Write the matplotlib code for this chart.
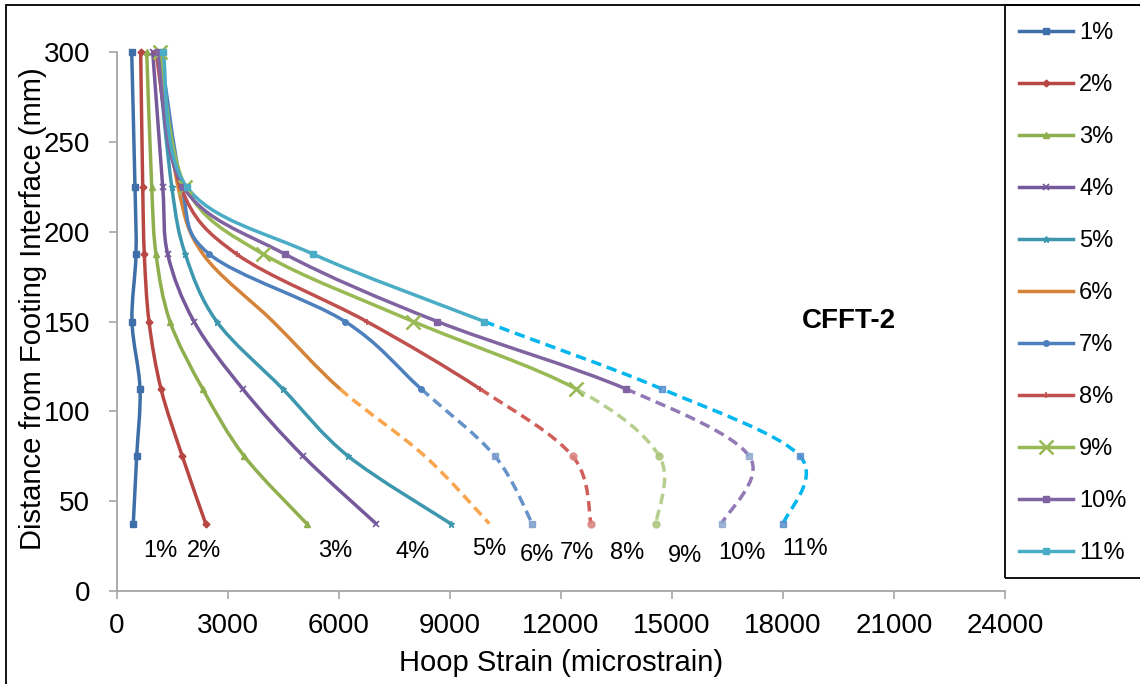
import numpy as np
import matplotlib
matplotlib.use('Agg')
import matplotlib.pyplot as plt
from matplotlib.path import Path
from matplotlib.patches import PathPatch, Rectangle
from matplotlib.lines import Line2D

plt.rcParams['font.family'] = ['Liberation Sans', 'DejaVu Sans']

# ---------------- data ----------------
depth = [300, 225, 187.5, 150, 112.5, 75, 37.5]
labels = ['1%', '2%', '3%', '4%', '5%', '6%', '7%', '8%', '9%', '10%', '11%']
s1 = [397, 486, 514, 405, 622, 532, 440]
s2 = [640, 695, 738, 865, 1189, 1765, 2397]
s3 = [803, 938, 1054, 1432, 2316, 3441, 5127]
s4 = [965, 1235, 1370, 2081, 3397, 5035, 7000]
s5 = [1089, 1480, 1846, 2695, 4478, 6251, 9018]
s6 = [1120, 1650, 2324, 4216, 6027, 8324, 10062]
s7 = [1180, 1750, 2495, 6162, 8216, 10216, 11224]
s8 = [1050, 1720, 3235, 6749, 9811, 12316, 12811]
s9 = [1160, 1850, 3954, 8008, 12405, 14657, 14568]
s10 = [1100, 1790, 4541, 8657, 13749, 17089, 16343]
s11 = [1250, 1880, 5305, 9927, 14722, 18459, 18008]
series = [s1, s2, s3, s4, s5, s6, s7, s8, s9, s10, s11]
# index of first point of dashed part (None = all solid)
dash_start = [None, None, None, None, None, 4, 4, 4, 4, 4, 3]

# end-of-curve annotation labels
ann_text = ['1%', '2%', '3%', '4%', '5%', '6%', '7%', '8%', '9%', '10%', '11%']
ann_x = [1162, 2350, 5890, 8000, 10054, 11350, 12430, 13780, 15350, 16890, 18600]
ann_y = [22, 22, 22, 21.7, 23.4, 20, 21.2, 21.2, 19.5, 21.2, 23.4]

# ---------------- styles ----------------
colors = ['#3F6FA9', '#B84744', '#8FAF4E', '#75599A', '#3D97AE', '#D58338',
          '#4E80BE', '#C0504D', '#98B954', '#8064A2', '#4BACC6']
dash_colors = [None, None, None, None, None, '#F9A54E', '#6592C8', '#D05F5A',
               '#B7CF8E', '#9379B5', '#00B6EF']
markers = ['s', 'D', '^', 'x', '*', None, 'o', '+', 'x', 's', 's']
dash_markers = [None, None, None, None, None, None, 's', 'o', 'o', 's', 's']
dash_mcolors = [None, None, None, None, None, None, '#7D9CCB', '#DA8580',
                '#A9C47A', '#8FA9D0', '#5A8FCC']
msizes = [5, 3.5, 4.5, 4, 5, 0, 4, 5, 10, 5, 5]
mews = [1, 1, 1, 1.2, 1, 1, 1, 1.2, 1.8, 1, 1]

fig = plt.figure(figsize=(11.4, 6.84), dpi=100)
ax = fig.add_axes([117/1140, 1-591/684, 888/1140, 539/684])


def bez_path(xs, ys, i0, i1):
    pts = np.column_stack([xs, ys]).astype(float)
    n = len(pts)
    verts = [pts[i0]]
    codes = [Path.MOVETO]
    for i in range(i0, i1):
        p0 = pts[i - 1] if i > 0 else pts[i]
        p1 = pts[i]
        p2 = pts[i + 1]
        p3 = pts[i + 2] if i + 2 < n else pts[i + 1]
        c1 = p1 + (p2 - p0) / 6.0
        c2 = p2 - (p3 - p1) / 6.0
        verts += [c1, c2, p2]
        codes += [Path.CURVE4] * 3
    return Path(verts, codes)


lw = 2.5
for k, xs in enumerate(series):
    n = len(xs)
    ds = dash_start[k]
    solid_end = n - 1 if ds is None else ds
    ax.add_patch(PathPatch(bez_path(xs, depth, 0, solid_end), fill=False,
                           edgecolor=colors[k], lw=lw, capstyle='round',
                           joinstyle='round', clip_on=False, zorder=3))
    if ds is not None:
        pp = PathPatch(bez_path(xs, depth, ds, n - 1), fill=False,
                       edgecolor=dash_colors[k], lw=lw, capstyle='butt',
                       clip_on=False, zorder=3)
        pp.set_linestyle((0, (3.0, 1.7)))
        ax.add_patch(pp)
    if markers[k] is not None:
        ms_end = n if ds is None else ds + 1
        ax.plot(xs[:ms_end], depth[:ms_end], linestyle='none', marker=markers[k],
                ms=msizes[k], mew=mews[k], color=colors[k], clip_on=False, zorder=4)
    if ds is not None and dash_markers[k] is not None:
        ax.plot(xs[ds + 1:], depth[ds + 1:], linestyle='none', marker=dash_markers[k],
                ms=5, mew=1, color=dash_mcolors[k], alpha=0.85,
                clip_on=False, zorder=4)

for t, x, y in zip(ann_text, ann_x, ann_y):
    ax.text(x, y, t, fontsize=17, ha='center', va='center', color='black')

ax.text(19784, 150.3, 'CFFT-2', fontsize=20, fontweight='bold', ha='center', va='center')

ax.set_xlim(0, 24000)
ax.set_ylim(0, 300)
ax.set_xticks(np.arange(0, 24001, 3000))
ax.set_yticks(np.arange(0, 301, 50))
for s in ['top', 'right']:
    ax.spines[s].set_visible(False)
for s in ['left', 'bottom']:
    ax.spines[s].set_color('#A6A6A6')
    ax.spines[s].set_linewidth(1.3)
ax.tick_params(axis='both', direction='out', length=5.5, width=1.2, color='#A6A6A6',
               labelsize=20, labelcolor='black')
ax.tick_params(axis='y', pad=14)
ax.tick_params(axis='x', pad=10)

ax.set_xlabel('Hoop Strain (microstrain)', fontsize=21)
ax.xaxis.label.set_va('center')
ax.xaxis.set_label_coords(0.5, -0.1336)
ax.set_ylabel('Distance from Footing Interface (mm)', fontsize=21)
ax.yaxis.label.set_va('center')
ax.yaxis.set_label_coords(-0.0946, 0.523)

# legend
handles = []
for k in range(len(series)):
    handles.append(Line2D([], [], color=colors[k], lw=lw,
                          marker=markers[k] if markers[k] else None,
                          ms=min(msizes[k], 6) if k != 8 else 10,
                          mew=mews[k]))
fig.legend(handles, labels, loc='upper left', bbox_to_anchor=(1019/1140, 1-22/684),
           frameon=False, borderaxespad=0, borderpad=0, fontsize=17,
           handlelength=2.3, handletextpad=0.25, labelspacing=1.27)

# outer border and legend box
fig.add_artist(Rectangle((6/1140, -0.1), 2.0, 1.1 - 5/684, transform=fig.transFigure,
                         fill=False, edgecolor='black', lw=1.3))
fig.add_artist(Rectangle((1005/1140, 1-578/684), 0.3, (578-5)/684, transform=fig.transFigure,
                         fill=False, edgecolor='black', lw=1.3))

fig.savefig('out.png', dpi=100)
